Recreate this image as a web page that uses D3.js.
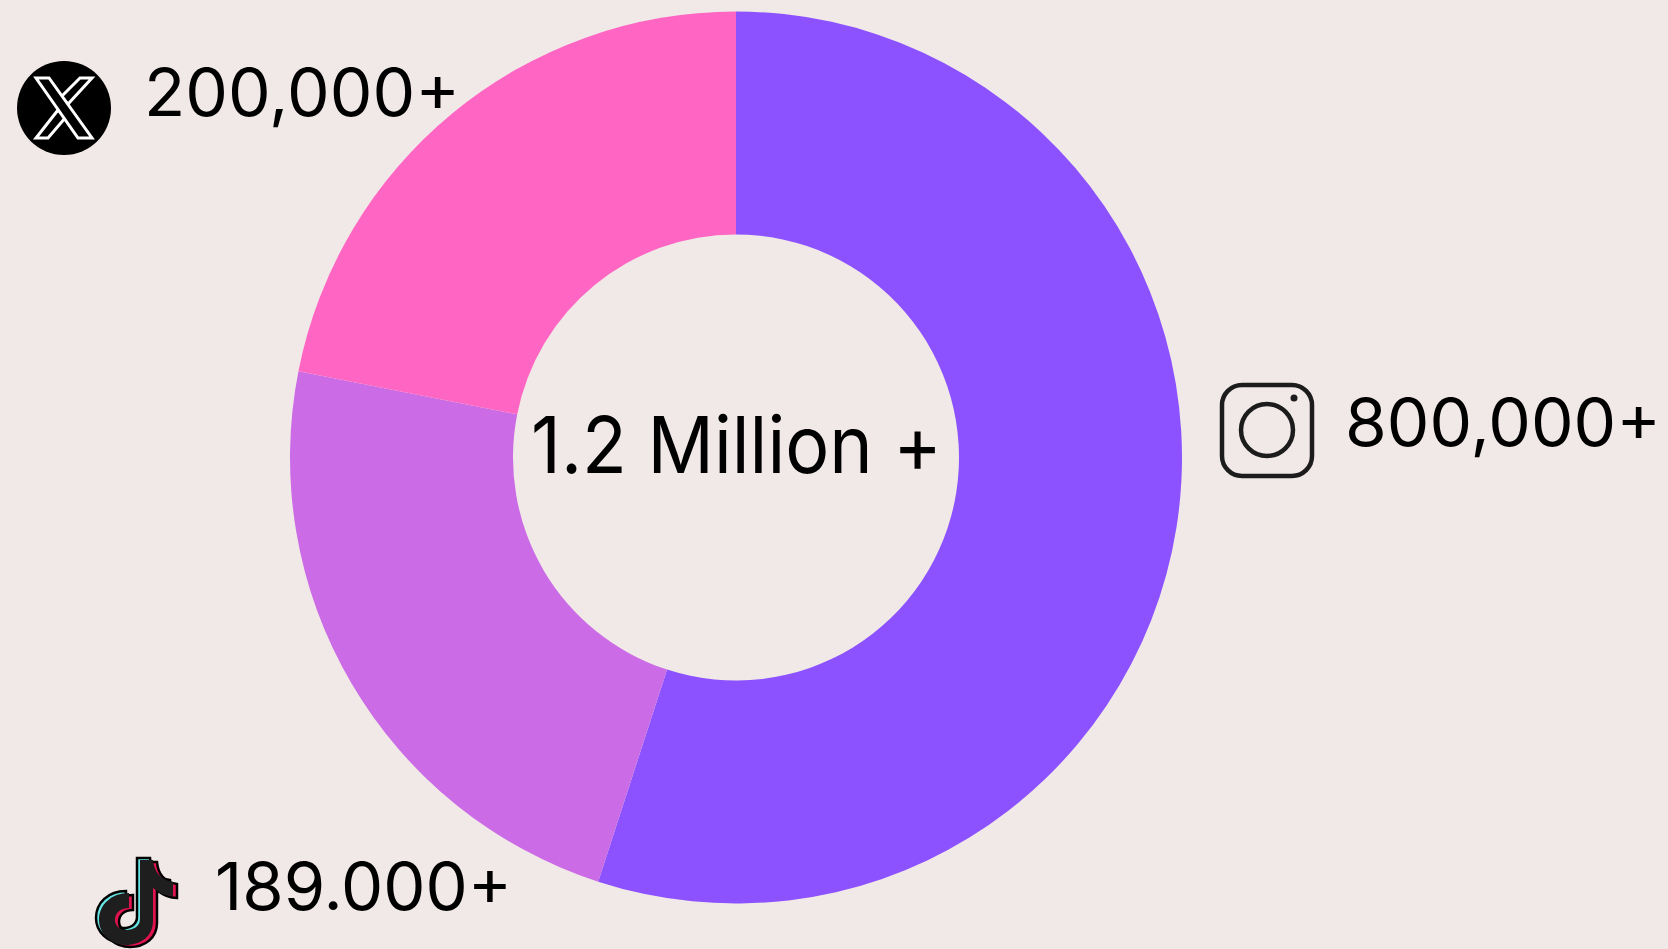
<!DOCTYPE html>
<html>
<head>
<meta charset="utf-8">
<script src="https://cdn.jsdelivr.net/npm/d3@7"></script>
<style>
  html, body { margin: 0; padding: 0; background: #f1e9e7; }
  svg { display: block; }
  text { font-family: Inter, sans-serif; font-weight: 400; fill: #000; }
</style>
</head>
<body>
<svg class="chart" width="1668" height="949"></svg>
<script>
// shares, the slices do not follow the printed labels
var platforms = ["Instagram", "TikTok", "X"]
var shares = [55.0, 23.1, 21.9]
var labels = ["800,000+", "189.000+", "200,000+"]
var colours = ["#8c52ff", "#cb6ce6", "#ff66c4"]
var total_label = "1.2 Million +"

var svg = d3.select(".chart")
var cx = 736, cy = 457.5
var outer = 446, inner = 223

var pie = d3.pie().sort(null).value(function(d) {return d})
var arc = d3.arc().innerRadius(inner).outerRadius(outer)

svg.append("g")
    .attr("transform", "translate(" + cx + " " + cy + ")")
  .selectAll("path")
  .data(pie(shares))
  .enter()
  .append("path")
    .attr("d", arc)
    .attr("fill", function(d, i) {return colours[i]})

svg.append("text")
    .attr("x", 531).attr("y", 473)
    .attr("font-size", 79)
    .attr("textLength", 411)
    .attr("lengthAdjust", "spacingAndGlyphs")
    .text(total_label)

var label_pos = [[1345, 446, 316], [215, 910, 297], [144, 116, 316]]
labels.forEach(function(l, i) {
    svg.append("text")
        .attr("x", label_pos[i][0]).attr("y", label_pos[i][1])
        .attr("font-size", 66)
        .attr("textLength", label_pos[i][2])
        .attr("lengthAdjust", "spacingAndGlyphs")
        .text(l)
})

// x logo
var x_icon = svg.append("g").attr("stroke", "#fff").attr("stroke-width", 3).attr("fill", "#000")
x_icon.append("circle").attr("cx", 64).attr("cy", 108).attr("r", 47).attr("stroke", "none")
x_icon.append("path").attr("d", "M80 78H92L68 104L61 97Z")
x_icon.append("path").attr("d", "M36 138H48L66 117L58 110Z")
x_icon.append("path").attr("d", "M36 78H49L92 138H78Z")

// instagram
var insta = svg.append("g").attr("fill", "none").attr("stroke", "#1c1c1c").attr("stroke-width", 4.5)
insta.append("rect").attr("x", 1222).attr("y", 385).attr("width", 90).attr("height", 91).attr("rx", 20)
insta.append("circle").attr("cx", 1267).attr("cy", 430).attr("r", 26)
svg.append("circle").attr("cx", 1294).attr("cy", 398).attr("r", 3.5).attr("fill", "#1c1c1c")

// tiktok
var note = "M140 860H153C154 872 161 880 173 882V896C165 896 159 893 153 888V921C153 936 141 945 126 945C111 945 99 934 99 920C99 905 111 893 129 893V908C120 908 115 913 115 920C115 926 120 930 126 930C134 930 140 926 140 919Z"
var tik = svg.append("g").attr("stroke", "#000").attr("stroke-width", 2.5).attr("stroke-linejoin", "miter")
tik.append("path").attr("d", note).attr("transform", "translate(-3 -2)").attr("fill", "#69e5e5")
tik.append("path").attr("d", note).attr("transform", "translate(4 2)").attr("fill", "#e0134f")
tik.append("path").attr("d", note).attr("fill", "#1e1e1e").attr("stroke", "none")
</script>
</body>
</html>
